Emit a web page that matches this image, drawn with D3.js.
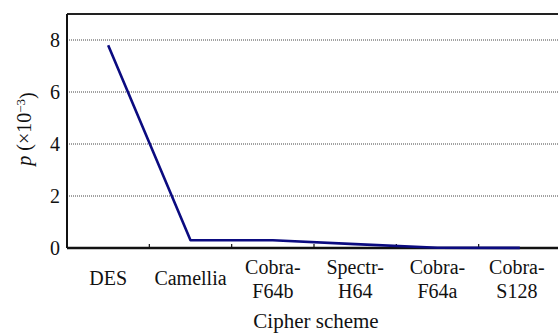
<!DOCTYPE html>
<html>
<head>
<meta charset="utf-8">
<script src="https://cdn.jsdelivr.net/npm/d3@7"></script>
<style>
  html, body { margin: 0; padding: 0; background: #fff; }
  svg { display: block; }
</style>
</head>
<body>
<svg id="chart" width="558" height="336"></svg>
<script>
// Cipher schemes and their p values (×10⁻³)
const schemes = ["DES", "Camellia", "Cobra-F64b", "Spectr-H64", "Cobra-F64a", "Cobra-S128"];
const pValues = [7.8, 0.3, 0.3, 0.15, 0.01, 0.005];
const yTicks = [0, 2, 4, 6, 8];

const serif = "'Liberation Serif', 'Times New Roman', Times, serif";
const width = 558, height = 336;
const margin = { top: 14, right: -3, bottom: 88, left: 67 };
const plotW = width - margin.left - margin.right;
const plotH = height - margin.top - margin.bottom;

const svg = d3.select("#chart");
const g = svg.append("g").attr("transform", `translate(${margin.left},${margin.top})`);

const x = d3.scaleBand().domain(schemes).range([0, plotW]).paddingInner(0).paddingOuter(0);
const y = d3.scaleLinear().domain([0, 9]).range([plotH, 0]);

// dotted horizontal gridlines
g.append("g")
  .selectAll("line")
  .data(yTicks.filter(d => d > 0))
  .join("line")
  .attr("x1", 0).attr("x2", plotW)
  .attr("y1", d => y(d)).attr("y2", d => y(d))
  .attr("stroke", "#444")
  .attr("stroke-width", 1)
  .attr("stroke-dasharray", "1,1");

// top frame line
g.append("line")
  .attr("x1", 0).attr("x2", plotW)
  .attr("y1", 0).attr("y2", 0)
  .attr("stroke", "#222").attr("stroke-width", 2);

// left axis: labels only, solid spine
const yAxis = g.append("g")
  .call(d3.axisLeft(y).tickValues(yTicks).tickSize(0).tickPadding(7).tickFormat(d3.format("d")));
yAxis.attr("font-family", null).attr("font-size", null);
yAxis.select(".domain").remove();
yAxis.selectAll("text")
  .style("font-family", serif)
  .style("font-size", "20px")
  .attr("fill", "#111")
  .attr("dy", "0.34em");
g.append("line")
  .attr("x1", 0).attr("x2", 0)
  .attr("y1", 0).attr("y2", plotH)
  .attr("stroke", "#111").attr("stroke-width", 2);

// category boundaries as small inward ticks
const bounds = schemes.slice(1).map(s => x(s));
g.append("g")
  .selectAll("line")
  .data(bounds)
  .join("line")
  .attr("x1", d => d).attr("x2", d => d)
  .attr("y1", plotH).attr("y2", plotH - 4)
  .attr("stroke", "#111").attr("stroke-width", 1.2);

// bottom axis spine
g.append("line")
  .attr("x1", 0).attr("x2", plotW)
  .attr("y1", plotH).attr("y2", plotH)
  .attr("stroke", "#111").attr("stroke-width", 2.5);

// category labels, hyphenated names split over two lines
const labels = g.append("g");
schemes.forEach((s, i) => {
  const cx = x(s) + x.bandwidth() / 2 + (i === schemes.length - 1 ? -3 : 0);
  const t = labels.append("text")
    .attr("text-anchor", "middle")
    .attr("fill", "#111")
    .style("font-family", serif)
    .style("font-size", "20px");
  const parts = s.includes("-") ? [s.slice(0, s.indexOf("-") + 1), s.slice(s.indexOf("-") + 1)] : [s];
  if (parts.length === 1) {
    t.attr("x", cx).attr("y", plotH + 37).text(parts[0]);
  } else {
    t.append("tspan").attr("x", cx).attr("y", plotH + 26).text(parts[0]);
    t.append("tspan").attr("x", cx).attr("y", plotH + 50).text(parts[1]);
  }
});

// data line
const line = d3.line()
  .x((d, i) => x(schemes[i]) + x.bandwidth() / 2)
  .y(d => y(d));
g.append("path")
  .datum(pValues)
  .attr("d", line)
  .attr("fill", "none")
  .attr("stroke", "#0b0b80")
  .attr("stroke-width", 2.6)
  .attr("stroke-linejoin", "round");

// axis titles
svg.append("text")
  .attr("x", margin.left + plotW / 2 + 2)
  .attr("y", 328)
  .attr("text-anchor", "middle")
  .attr("fill", "#111")
  .style("font-family", serif)
  .style("font-size", "21px")
  .text("Cipher scheme");

const yt = svg.append("text")
  .attr("transform", `translate(31,${margin.top + plotH / 2 - 2}) rotate(-90)`)
  .attr("text-anchor", "middle")
  .attr("fill", "#111")
  .style("font-family", serif)
  .style("font-size", "20px");
yt.append("tspan").style("font-style", "italic").text("p");
yt.append("tspan").text(" (×10");
yt.append("tspan").attr("dy", "-0.45em").style("font-size", "13px").text("−3");
yt.append("tspan").attr("dy", "0.45em").text(")");
</script>
</body>
</html>
